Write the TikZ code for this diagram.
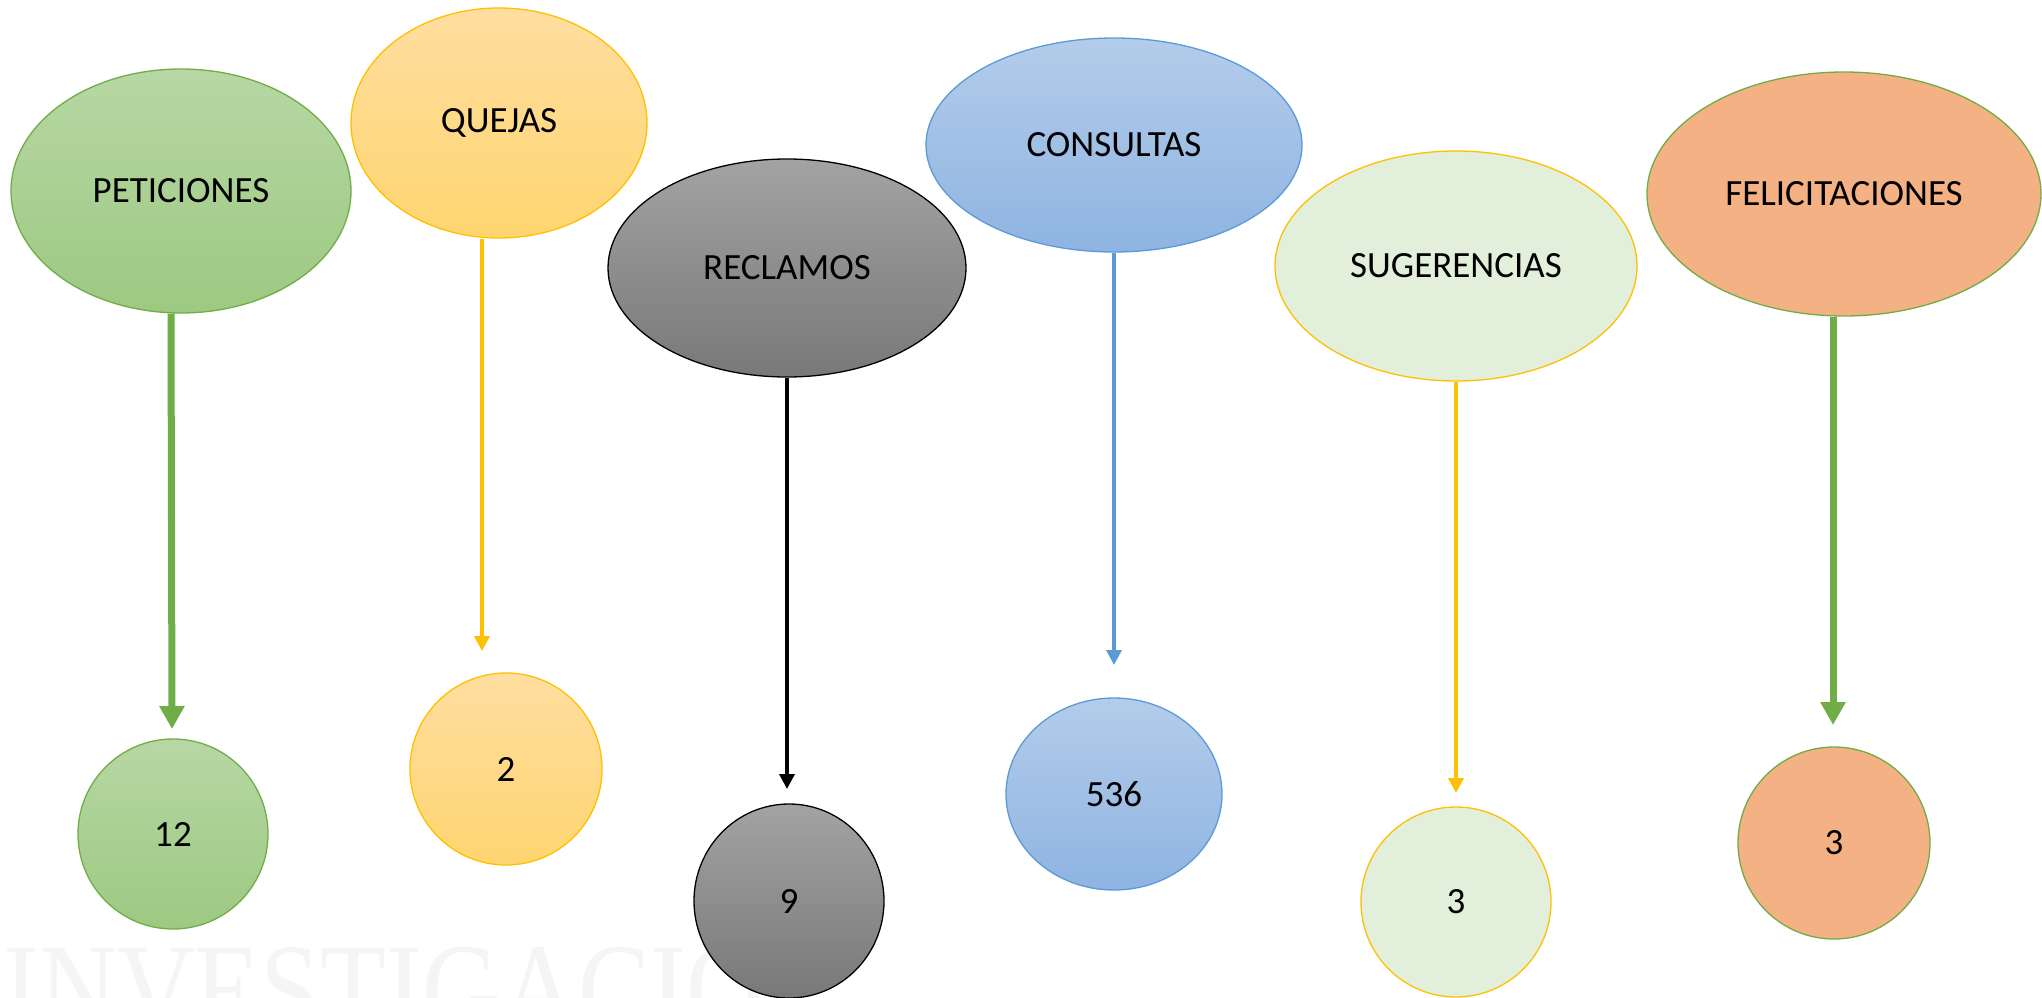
\documentclass[tikz,border=0pt]{standalone}
\usepackage{fontspec}
\setmainfont{Carlito}
\newfontfamily\wmfont{Liberation Serif}
\usetikzlibrary{shapes.geometric,arrows.meta}
\definecolor{gline}{HTML}{70AD47}
\definecolor{oline}{HTML}{FFC000}
\definecolor{bline}{HTML}{5B9BD5}
\tikzset{
  x=1pt,y=-1pt,
  blob/.style={ellipse,inner sep=0pt,line width=1.3pt,font=\fontsize{37}{42}\selectfont},
  greenblob/.style={blob,draw=gline,top color={rgb,255:red,183;green,215;blue,164},bottom color={rgb,255:red,157;green,201;blue,130}},
  orangeblob/.style={blob,draw=oline,top color={rgb,255:red,255;green,222;blue,160},bottom color={rgb,255:red,255;green,213;blue,112}},
  grayblob/.style={blob,draw=black,top color={rgb,255:red,163;green,163;blue,163},bottom color={rgb,255:red,120;green,120;blue,120}},
  blueblob/.style={blob,draw=bline,top color={rgb,255:red,180;green,204;blue,234},bottom color={rgb,255:red,142;green,180;blue,226}},
  sugblob/.style={blob,draw=oline,fill={rgb,255:red,226;green,239;blue,218}},
  felblob/.style={blob,draw=gline,fill={rgb,255:red,244;green,177;blue,131}},
  thickarrow/.style={line width=7pt,-{Triangle[width=24pt,length=23pt]}},
  thinarrow/.style={line width=3.5pt,-{Triangle[width=15pt,length=15pt]}},
}
\begin{document}
\begin{tikzpicture}
\useasboundingbox (0,0) rectangle (2042,998);
\fill[white] (0,0) rectangle (2042,998);
% watermark
\begin{scope}
\clip (0,0) rectangle (2042,998);
\node[anchor=base west,inner sep=0pt,text=black!4,xscale=0.83,font=\wmfont\fontsize{130}{130}\selectfont] (wm) at (3,1033) {INVESTIGACIO};
\end{scope}
% top ellipses
\node[greenblob,minimum width=340pt,minimum height=244pt] (pet) at (181,191) {PETICIONES};
\node[orangeblob,minimum width=296pt,minimum height=230pt] (que) at (499,123) {QUEJAS};
\node[grayblob,minimum width=358pt,minimum height=218pt] (rec) at (787,268) {RECLAMOS};
\node[blueblob,minimum width=376pt,minimum height=214pt] (con) at (1114,145) {CONSULTAS};
\node[sugblob,minimum width=362pt,minimum height=230pt] (sug) at (1456,266) {SUGERENCIAS};
\node[felblob,minimum width=394pt,minimum height=244pt] (fel) at (1844,194) {FELICITACIONES};
% bottom circles
\node[greenblob,minimum width=190pt,minimum height=190pt] (n12) at (173,834) {12};
\node[orangeblob,minimum width=192pt,minimum height=192pt] (n2) at (506,769) {2};
\node[grayblob,minimum width=190pt,minimum height=194pt] (n9) at (789,901) {9};
\node[blueblob,minimum width=216pt,minimum height=192pt] (n536) at (1114,794) {536};
\node[sugblob,minimum width=190pt,minimum height=190pt] (n3a) at (1456,902) {3};
\node[felblob,minimum width=192pt,minimum height=192pt] (n3b) at (1834,843) {3};
% arrow tips
\coordinate (tpet) at (172,729);
\coordinate (tque) at (482,651);
\coordinate (trec) at (787,789);
\coordinate (tcon) at (1114,665);
\coordinate (tsug) at (1456,793);
\coordinate (tfel) at (1833,725);
% arrows
\draw[thickarrow,gline] ([xshift=-10pt]pet.south) -- (tpet);
\draw[thinarrow,oline] (que.south -| tque) -- (tque);
\draw[thinarrow,black] (rec.south) -- (trec);
\draw[thinarrow,bline] (con.south) -- (tcon);
\draw[thinarrow,oline] (sug.south) -- (tsug);
\draw[thickarrow,gline] ([xshift=-11pt]fel.south) -- (tfel);
\end{tikzpicture}
\end{document}
